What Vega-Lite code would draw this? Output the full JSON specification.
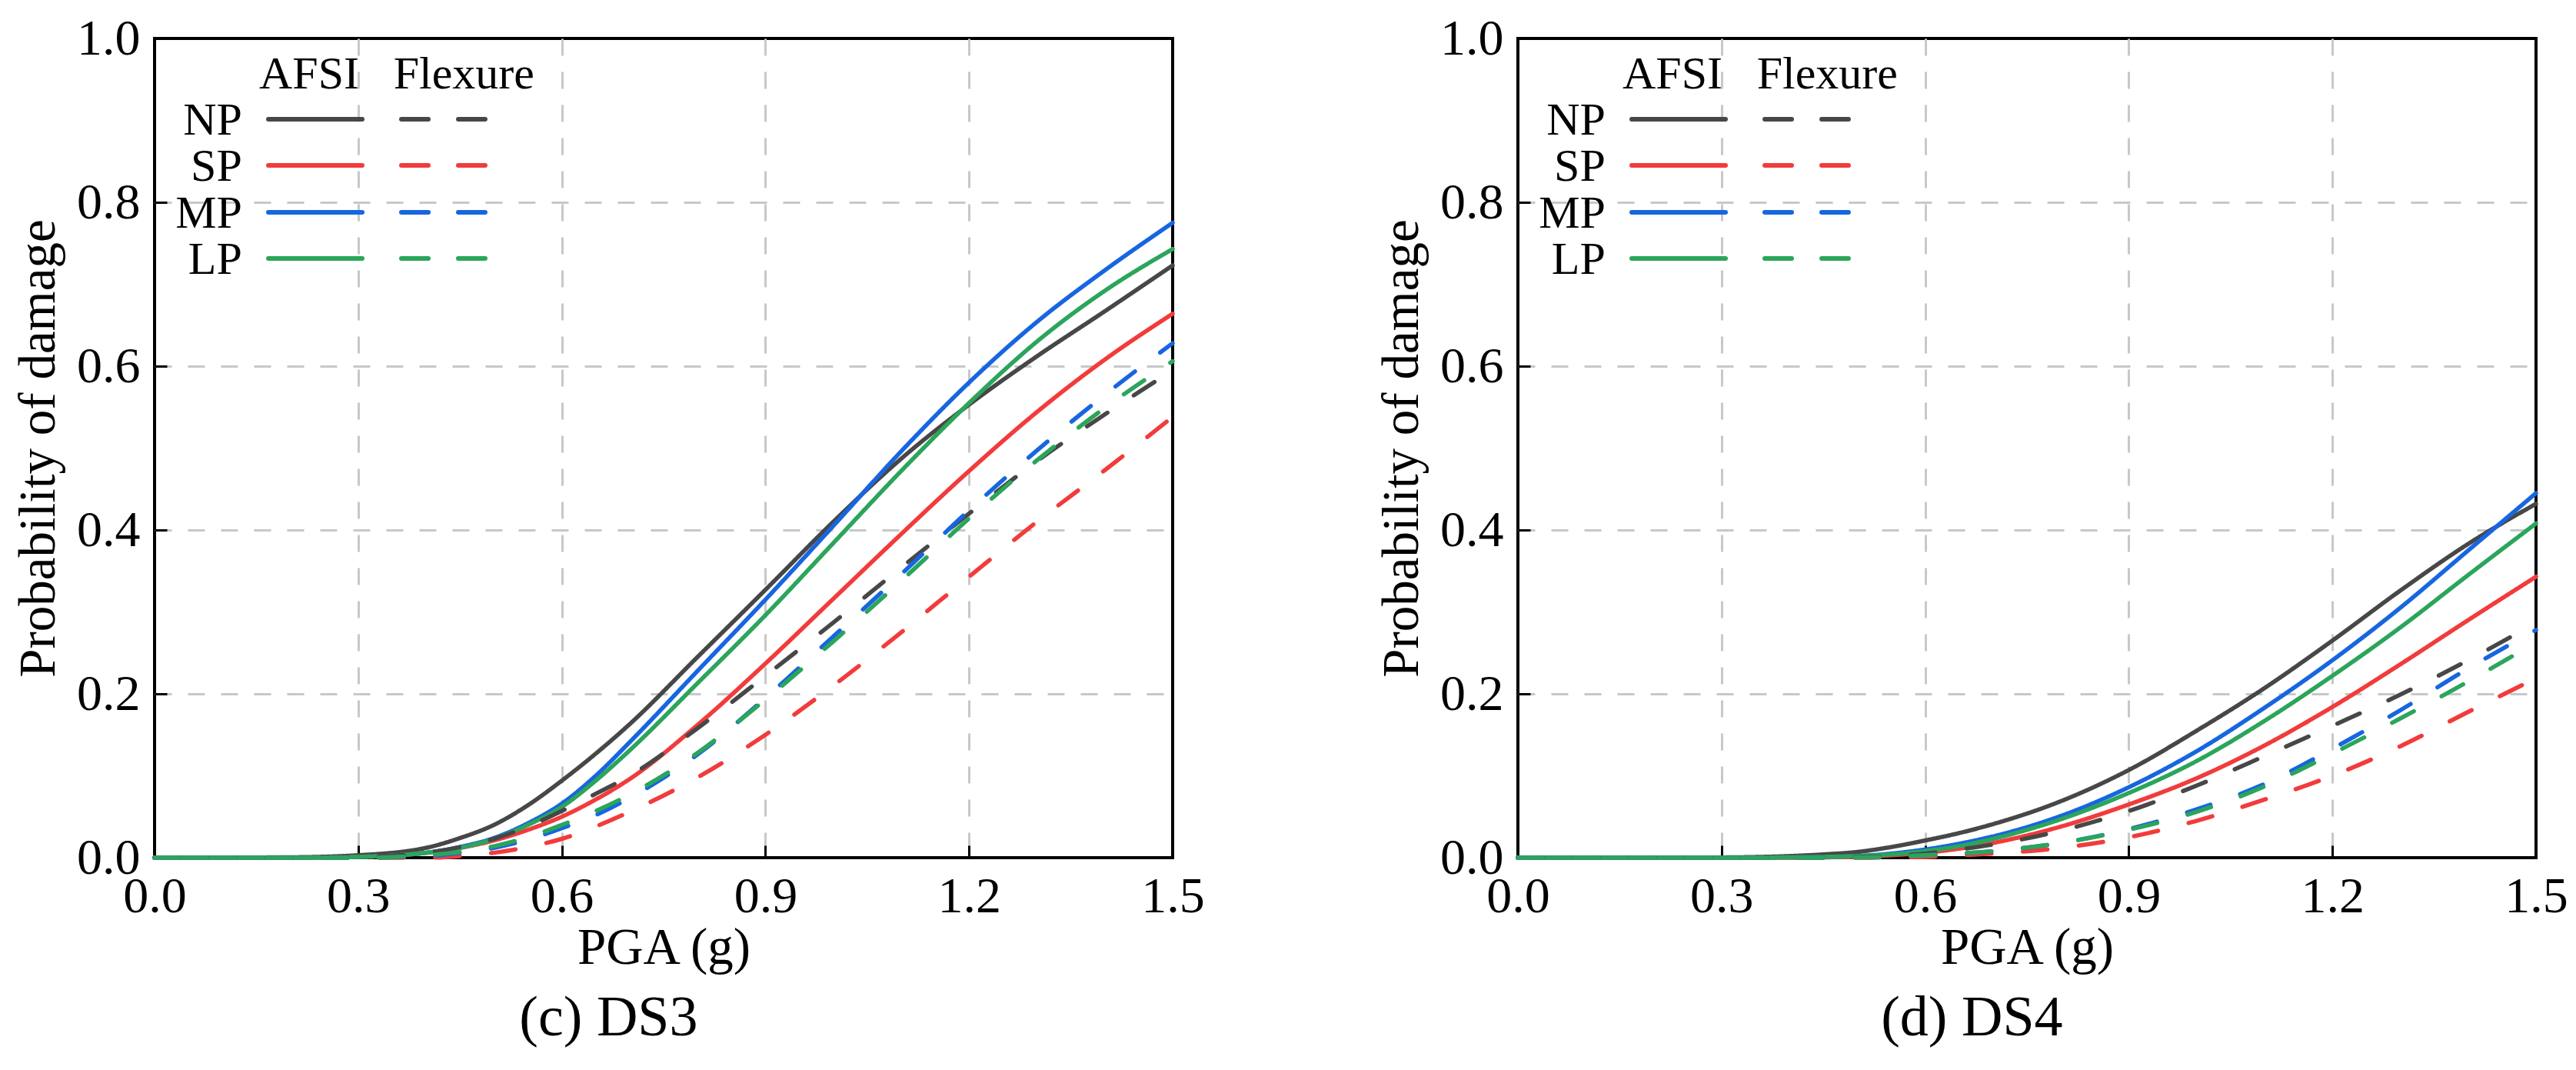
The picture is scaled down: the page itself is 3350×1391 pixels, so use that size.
{
  "$schema": "https://vega.github.io/schema/vega-lite/v6.json",
  "background": "white",
  "padding": {"left": 14, "top": 15, "right": 0, "bottom": 0},
  "config": {
    "font": "Liberation Serif",
    "view": {"stroke": "black", "strokeWidth": 4},
    "concat": {"spacing": 218},
    "axis": {
      "domain": false,
      "grid": true,
      "gridColor": "#c8c8c8",
      "gridWidth": 3,
      "gridDash": [22, 21],
      "ticks": true,
      "tickColor": "black",
      "tickWidth": 3,
      "tickSize": -16,
      "labelFont": "Liberation Serif",
      "labelFontSize": 66,
      "labelColor": "black",
      "labelFlush": false,
      "labelOverlap": false,
      "titleFont": "Liberation Serif",
      "titleFontSize": 67,
      "titleFontWeight": "normal",
      "titleColor": "black"
    },
    "text": {"font": "Liberation Serif", "fontSize": 60, "color": "black"},
    "title": {"font": "Liberation Serif", "fontSize": 74, "fontWeight": "normal", "color": "black"}
  },
  "datasets": {
    "keys": [
      {"series": "NP"}, {"series": "SP"}, {"series": "MP"}, {"series": "LP"}
    ],
    "headers": [
      {"label": "AFSI"}, {"label": "Flexure"}
    ],
    "curves": [
      {"panel":"DS3","series":"NP","model":"AFSI","pga":0,"p":0},
      {"panel":"DS3","series":"NP","model":"AFSI","pga":0.2,"p":0.0005},
      {"panel":"DS3","series":"NP","model":"AFSI","pga":0.3,"p":0.003},
      {"panel":"DS3","series":"NP","model":"AFSI","pga":0.4,"p":0.012},
      {"panel":"DS3","series":"NP","model":"AFSI","pga":0.45,"p":0.024},
      {"panel":"DS3","series":"NP","model":"AFSI","pga":0.5,"p":0.04},
      {"panel":"DS3","series":"NP","model":"AFSI","pga":0.55,"p":0.064},
      {"panel":"DS3","series":"NP","model":"AFSI","pga":0.6,"p":0.094},
      {"panel":"DS3","series":"NP","model":"AFSI","pga":0.65,"p":0.127},
      {"panel":"DS3","series":"NP","model":"AFSI","pga":0.7,"p":0.163},
      {"panel":"DS3","series":"NP","model":"AFSI","pga":0.8,"p":0.245},
      {"panel":"DS3","series":"NP","model":"AFSI","pga":0.9,"p":0.327},
      {"panel":"DS3","series":"NP","model":"AFSI","pga":1.0,"p":0.41},
      {"panel":"DS3","series":"NP","model":"AFSI","pga":1.1,"p":0.487},
      {"panel":"DS3","series":"NP","model":"AFSI","pga":1.2,"p":0.553},
      {"panel":"DS3","series":"NP","model":"AFSI","pga":1.3,"p":0.612},
      {"panel":"DS3","series":"NP","model":"AFSI","pga":1.4,"p":0.667},
      {"panel":"DS3","series":"NP","model":"AFSI","pga":1.5,"p":0.723},

      {"panel":"DS3","series":"SP","model":"AFSI","pga":0,"p":0},
      {"panel":"DS3","series":"SP","model":"AFSI","pga":0.2,"p":0},
      {"panel":"DS3","series":"SP","model":"AFSI","pga":0.3,"p":0.001},
      {"panel":"DS3","series":"SP","model":"AFSI","pga":0.4,"p":0.006},
      {"panel":"DS3","series":"SP","model":"AFSI","pga":0.45,"p":0.012},
      {"panel":"DS3","series":"SP","model":"AFSI","pga":0.5,"p":0.021},
      {"panel":"DS3","series":"SP","model":"AFSI","pga":0.55,"p":0.034},
      {"panel":"DS3","series":"SP","model":"AFSI","pga":0.6,"p":0.05},
      {"panel":"DS3","series":"SP","model":"AFSI","pga":0.65,"p":0.071},
      {"panel":"DS3","series":"SP","model":"AFSI","pga":0.7,"p":0.096},
      {"panel":"DS3","series":"SP","model":"AFSI","pga":0.8,"p":0.162},
      {"panel":"DS3","series":"SP","model":"AFSI","pga":0.9,"p":0.237},
      {"panel":"DS3","series":"SP","model":"AFSI","pga":1.0,"p":0.316},
      {"panel":"DS3","series":"SP","model":"AFSI","pga":1.1,"p":0.395},
      {"panel":"DS3","series":"SP","model":"AFSI","pga":1.2,"p":0.472},
      {"panel":"DS3","series":"SP","model":"AFSI","pga":1.3,"p":0.544},
      {"panel":"DS3","series":"SP","model":"AFSI","pga":1.4,"p":0.608},
      {"panel":"DS3","series":"SP","model":"AFSI","pga":1.5,"p":0.664},

      {"panel":"DS3","series":"MP","model":"AFSI","pga":0,"p":0},
      {"panel":"DS3","series":"MP","model":"AFSI","pga":0.2,"p":0},
      {"panel":"DS3","series":"MP","model":"AFSI","pga":0.3,"p":0.001},
      {"panel":"DS3","series":"MP","model":"AFSI","pga":0.4,"p":0.006},
      {"panel":"DS3","series":"MP","model":"AFSI","pga":0.45,"p":0.013},
      {"panel":"DS3","series":"MP","model":"AFSI","pga":0.5,"p":0.024},
      {"panel":"DS3","series":"MP","model":"AFSI","pga":0.55,"p":0.042},
      {"panel":"DS3","series":"MP","model":"AFSI","pga":0.6,"p":0.066},
      {"panel":"DS3","series":"MP","model":"AFSI","pga":0.65,"p":0.1},
      {"panel":"DS3","series":"MP","model":"AFSI","pga":0.7,"p":0.141},
      {"panel":"DS3","series":"MP","model":"AFSI","pga":0.8,"p":0.228},
      {"panel":"DS3","series":"MP","model":"AFSI","pga":0.9,"p":0.315},
      {"panel":"DS3","series":"MP","model":"AFSI","pga":1.0,"p":0.405},
      {"panel":"DS3","series":"MP","model":"AFSI","pga":1.1,"p":0.496},
      {"panel":"DS3","series":"MP","model":"AFSI","pga":1.2,"p":0.58},
      {"panel":"DS3","series":"MP","model":"AFSI","pga":1.3,"p":0.654},
      {"panel":"DS3","series":"MP","model":"AFSI","pga":1.4,"p":0.717},
      {"panel":"DS3","series":"MP","model":"AFSI","pga":1.5,"p":0.775},

      {"panel":"DS3","series":"LP","model":"AFSI","pga":0,"p":0},
      {"panel":"DS3","series":"LP","model":"AFSI","pga":0.2,"p":0},
      {"panel":"DS3","series":"LP","model":"AFSI","pga":0.3,"p":0.001},
      {"panel":"DS3","series":"LP","model":"AFSI","pga":0.4,"p":0.006},
      {"panel":"DS3","series":"LP","model":"AFSI","pga":0.45,"p":0.012},
      {"panel":"DS3","series":"LP","model":"AFSI","pga":0.5,"p":0.023},
      {"panel":"DS3","series":"LP","model":"AFSI","pga":0.55,"p":0.04},
      {"panel":"DS3","series":"LP","model":"AFSI","pga":0.6,"p":0.062},
      {"panel":"DS3","series":"LP","model":"AFSI","pga":0.65,"p":0.094},
      {"panel":"DS3","series":"LP","model":"AFSI","pga":0.7,"p":0.131},
      {"panel":"DS3","series":"LP","model":"AFSI","pga":0.8,"p":0.213},
      {"panel":"DS3","series":"LP","model":"AFSI","pga":0.9,"p":0.296},
      {"panel":"DS3","series":"LP","model":"AFSI","pga":1.0,"p":0.384},
      {"panel":"DS3","series":"LP","model":"AFSI","pga":1.1,"p":0.472},
      {"panel":"DS3","series":"LP","model":"AFSI","pga":1.2,"p":0.555},
      {"panel":"DS3","series":"LP","model":"AFSI","pga":1.3,"p":0.63},
      {"panel":"DS3","series":"LP","model":"AFSI","pga":1.4,"p":0.692},
      {"panel":"DS3","series":"LP","model":"AFSI","pga":1.5,"p":0.743},

      {"panel":"DS3","series":"NP","model":"Flexure","pga":0,"p":0},
      {"panel":"DS3","series":"NP","model":"Flexure","pga":0.2,"p":0},
      {"panel":"DS3","series":"NP","model":"Flexure","pga":0.3,"p":0.001},
      {"panel":"DS3","series":"NP","model":"Flexure","pga":0.4,"p":0.006},
      {"panel":"DS3","series":"NP","model":"Flexure","pga":0.45,"p":0.013},
      {"panel":"DS3","series":"NP","model":"Flexure","pga":0.5,"p":0.023},
      {"panel":"DS3","series":"NP","model":"Flexure","pga":0.55,"p":0.038},
      {"panel":"DS3","series":"NP","model":"Flexure","pga":0.6,"p":0.057},
      {"panel":"DS3","series":"NP","model":"Flexure","pga":0.65,"p":0.078},
      {"panel":"DS3","series":"NP","model":"Flexure","pga":0.7,"p":0.1},
      {"panel":"DS3","series":"NP","model":"Flexure","pga":0.8,"p":0.158},
      {"panel":"DS3","series":"NP","model":"Flexure","pga":0.9,"p":0.222},
      {"panel":"DS3","series":"NP","model":"Flexure","pga":1.0,"p":0.287},
      {"panel":"DS3","series":"NP","model":"Flexure","pga":1.1,"p":0.354},
      {"panel":"DS3","series":"NP","model":"Flexure","pga":1.2,"p":0.42},
      {"panel":"DS3","series":"NP","model":"Flexure","pga":1.3,"p":0.484},
      {"panel":"DS3","series":"NP","model":"Flexure","pga":1.4,"p":0.541},
      {"panel":"DS3","series":"NP","model":"Flexure","pga":1.5,"p":0.595},

      {"panel":"DS3","series":"SP","model":"Flexure","pga":0,"p":0},
      {"panel":"DS3","series":"SP","model":"Flexure","pga":0.2,"p":0},
      {"panel":"DS3","series":"SP","model":"Flexure","pga":0.3,"p":0},
      {"panel":"DS3","series":"SP","model":"Flexure","pga":0.4,"p":0},
      {"panel":"DS3","series":"SP","model":"Flexure","pga":0.45,"p":0.002},
      {"panel":"DS3","series":"SP","model":"Flexure","pga":0.5,"p":0.006},
      {"panel":"DS3","series":"SP","model":"Flexure","pga":0.55,"p":0.013},
      {"panel":"DS3","series":"SP","model":"Flexure","pga":0.6,"p":0.023},
      {"panel":"DS3","series":"SP","model":"Flexure","pga":0.65,"p":0.038},
      {"panel":"DS3","series":"SP","model":"Flexure","pga":0.7,"p":0.056},
      {"panel":"DS3","series":"SP","model":"Flexure","pga":0.8,"p":0.098},
      {"panel":"DS3","series":"SP","model":"Flexure","pga":0.9,"p":0.15},
      {"panel":"DS3","series":"SP","model":"Flexure","pga":1.0,"p":0.21},
      {"panel":"DS3","series":"SP","model":"Flexure","pga":1.1,"p":0.275},
      {"panel":"DS3","series":"SP","model":"Flexure","pga":1.2,"p":0.343},
      {"panel":"DS3","series":"SP","model":"Flexure","pga":1.3,"p":0.41},
      {"panel":"DS3","series":"SP","model":"Flexure","pga":1.4,"p":0.473},
      {"panel":"DS3","series":"SP","model":"Flexure","pga":1.5,"p":0.538},

      {"panel":"DS3","series":"MP","model":"Flexure","pga":0,"p":0},
      {"panel":"DS3","series":"MP","model":"Flexure","pga":0.2,"p":0},
      {"panel":"DS3","series":"MP","model":"Flexure","pga":0.3,"p":0},
      {"panel":"DS3","series":"MP","model":"Flexure","pga":0.4,"p":0.002},
      {"panel":"DS3","series":"MP","model":"Flexure","pga":0.45,"p":0.006},
      {"panel":"DS3","series":"MP","model":"Flexure","pga":0.5,"p":0.012},
      {"panel":"DS3","series":"MP","model":"Flexure","pga":0.55,"p":0.022},
      {"panel":"DS3","series":"MP","model":"Flexure","pga":0.6,"p":0.036},
      {"panel":"DS3","series":"MP","model":"Flexure","pga":0.65,"p":0.052},
      {"panel":"DS3","series":"MP","model":"Flexure","pga":0.7,"p":0.073},
      {"panel":"DS3","series":"MP","model":"Flexure","pga":0.8,"p":0.126},
      {"panel":"DS3","series":"MP","model":"Flexure","pga":0.9,"p":0.195},
      {"panel":"DS3","series":"MP","model":"Flexure","pga":1.0,"p":0.27},
      {"panel":"DS3","series":"MP","model":"Flexure","pga":1.1,"p":0.346},
      {"panel":"DS3","series":"MP","model":"Flexure","pga":1.2,"p":0.424},
      {"panel":"DS3","series":"MP","model":"Flexure","pga":1.3,"p":0.497},
      {"panel":"DS3","series":"MP","model":"Flexure","pga":1.4,"p":0.565},
      {"panel":"DS3","series":"MP","model":"Flexure","pga":1.5,"p":0.628},

      {"panel":"DS3","series":"LP","model":"Flexure","pga":0,"p":0},
      {"panel":"DS3","series":"LP","model":"Flexure","pga":0.2,"p":0},
      {"panel":"DS3","series":"LP","model":"Flexure","pga":0.3,"p":0},
      {"panel":"DS3","series":"LP","model":"Flexure","pga":0.4,"p":0.003},
      {"panel":"DS3","series":"LP","model":"Flexure","pga":0.45,"p":0.007},
      {"panel":"DS3","series":"LP","model":"Flexure","pga":0.5,"p":0.014},
      {"panel":"DS3","series":"LP","model":"Flexure","pga":0.55,"p":0.025},
      {"panel":"DS3","series":"LP","model":"Flexure","pga":0.6,"p":0.04},
      {"panel":"DS3","series":"LP","model":"Flexure","pga":0.65,"p":0.057},
      {"panel":"DS3","series":"LP","model":"Flexure","pga":0.7,"p":0.077},
      {"panel":"DS3","series":"LP","model":"Flexure","pga":0.8,"p":0.128},
      {"panel":"DS3","series":"LP","model":"Flexure","pga":0.9,"p":0.193},
      {"panel":"DS3","series":"LP","model":"Flexure","pga":1.0,"p":0.264},
      {"panel":"DS3","series":"LP","model":"Flexure","pga":1.1,"p":0.338},
      {"panel":"DS3","series":"LP","model":"Flexure","pga":1.2,"p":0.414},
      {"panel":"DS3","series":"LP","model":"Flexure","pga":1.3,"p":0.485},
      {"panel":"DS3","series":"LP","model":"Flexure","pga":1.4,"p":0.549},
      {"panel":"DS3","series":"LP","model":"Flexure","pga":1.5,"p":0.606},

      {"panel":"DS4","series":"NP","model":"AFSI","pga":0,"p":0},
      {"panel":"DS4","series":"NP","model":"AFSI","pga":0.2,"p":0},
      {"panel":"DS4","series":"NP","model":"AFSI","pga":0.3,"p":0.0003},
      {"panel":"DS4","series":"NP","model":"AFSI","pga":0.4,"p":0.002},
      {"panel":"DS4","series":"NP","model":"AFSI","pga":0.45,"p":0.004},
      {"panel":"DS4","series":"NP","model":"AFSI","pga":0.5,"p":0.007},
      {"panel":"DS4","series":"NP","model":"AFSI","pga":0.55,"p":0.013},
      {"panel":"DS4","series":"NP","model":"AFSI","pga":0.6,"p":0.021},
      {"panel":"DS4","series":"NP","model":"AFSI","pga":0.65,"p":0.03},
      {"panel":"DS4","series":"NP","model":"AFSI","pga":0.7,"p":0.041},
      {"panel":"DS4","series":"NP","model":"AFSI","pga":0.8,"p":0.069},
      {"panel":"DS4","series":"NP","model":"AFSI","pga":0.9,"p":0.107},
      {"panel":"DS4","series":"NP","model":"AFSI","pga":1.0,"p":0.155},
      {"panel":"DS4","series":"NP","model":"AFSI","pga":1.1,"p":0.207},
      {"panel":"DS4","series":"NP","model":"AFSI","pga":1.2,"p":0.265},
      {"panel":"DS4","series":"NP","model":"AFSI","pga":1.3,"p":0.326},
      {"panel":"DS4","series":"NP","model":"AFSI","pga":1.4,"p":0.383},
      {"panel":"DS4","series":"NP","model":"AFSI","pga":1.5,"p":0.432},

      {"panel":"DS4","series":"SP","model":"AFSI","pga":0,"p":0},
      {"panel":"DS4","series":"SP","model":"AFSI","pga":0.2,"p":0},
      {"panel":"DS4","series":"SP","model":"AFSI","pga":0.3,"p":0},
      {"panel":"DS4","series":"SP","model":"AFSI","pga":0.4,"p":0},
      {"panel":"DS4","series":"SP","model":"AFSI","pga":0.45,"p":0.0005},
      {"panel":"DS4","series":"SP","model":"AFSI","pga":0.5,"p":0.001},
      {"panel":"DS4","series":"SP","model":"AFSI","pga":0.55,"p":0.003},
      {"panel":"DS4","series":"SP","model":"AFSI","pga":0.6,"p":0.006},
      {"panel":"DS4","series":"SP","model":"AFSI","pga":0.65,"p":0.011},
      {"panel":"DS4","series":"SP","model":"AFSI","pga":0.7,"p":0.018},
      {"panel":"DS4","series":"SP","model":"AFSI","pga":0.8,"p":0.038},
      {"panel":"DS4","series":"SP","model":"AFSI","pga":0.9,"p":0.065},
      {"panel":"DS4","series":"SP","model":"AFSI","pga":1.0,"p":0.097},
      {"panel":"DS4","series":"SP","model":"AFSI","pga":1.1,"p":0.137},
      {"panel":"DS4","series":"SP","model":"AFSI","pga":1.2,"p":0.184},
      {"panel":"DS4","series":"SP","model":"AFSI","pga":1.3,"p":0.236},
      {"panel":"DS4","series":"SP","model":"AFSI","pga":1.4,"p":0.29},
      {"panel":"DS4","series":"SP","model":"AFSI","pga":1.5,"p":0.343},

      {"panel":"DS4","series":"MP","model":"AFSI","pga":0,"p":0},
      {"panel":"DS4","series":"MP","model":"AFSI","pga":0.2,"p":0},
      {"panel":"DS4","series":"MP","model":"AFSI","pga":0.3,"p":0},
      {"panel":"DS4","series":"MP","model":"AFSI","pga":0.4,"p":0.0005},
      {"panel":"DS4","series":"MP","model":"AFSI","pga":0.45,"p":0.001},
      {"panel":"DS4","series":"MP","model":"AFSI","pga":0.5,"p":0.002},
      {"panel":"DS4","series":"MP","model":"AFSI","pga":0.55,"p":0.005},
      {"panel":"DS4","series":"MP","model":"AFSI","pga":0.6,"p":0.01},
      {"panel":"DS4","series":"MP","model":"AFSI","pga":0.65,"p":0.017},
      {"panel":"DS4","series":"MP","model":"AFSI","pga":0.7,"p":0.026},
      {"panel":"DS4","series":"MP","model":"AFSI","pga":0.8,"p":0.051},
      {"panel":"DS4","series":"MP","model":"AFSI","pga":0.9,"p":0.086},
      {"panel":"DS4","series":"MP","model":"AFSI","pga":1.0,"p":0.13},
      {"panel":"DS4","series":"MP","model":"AFSI","pga":1.1,"p":0.183},
      {"panel":"DS4","series":"MP","model":"AFSI","pga":1.2,"p":0.241},
      {"panel":"DS4","series":"MP","model":"AFSI","pga":1.3,"p":0.305},
      {"panel":"DS4","series":"MP","model":"AFSI","pga":1.4,"p":0.375},
      {"panel":"DS4","series":"MP","model":"AFSI","pga":1.5,"p":0.445},

      {"panel":"DS4","series":"LP","model":"AFSI","pga":0,"p":0},
      {"panel":"DS4","series":"LP","model":"AFSI","pga":0.2,"p":0},
      {"panel":"DS4","series":"LP","model":"AFSI","pga":0.3,"p":0},
      {"panel":"DS4","series":"LP","model":"AFSI","pga":0.4,"p":0.0005},
      {"panel":"DS4","series":"LP","model":"AFSI","pga":0.45,"p":0.001},
      {"panel":"DS4","series":"LP","model":"AFSI","pga":0.5,"p":0.002},
      {"panel":"DS4","series":"LP","model":"AFSI","pga":0.55,"p":0.004},
      {"panel":"DS4","series":"LP","model":"AFSI","pga":0.6,"p":0.008},
      {"panel":"DS4","series":"LP","model":"AFSI","pga":0.65,"p":0.014},
      {"panel":"DS4","series":"LP","model":"AFSI","pga":0.7,"p":0.023},
      {"panel":"DS4","series":"LP","model":"AFSI","pga":0.8,"p":0.047},
      {"panel":"DS4","series":"LP","model":"AFSI","pga":0.9,"p":0.079},
      {"panel":"DS4","series":"LP","model":"AFSI","pga":1.0,"p":0.118},
      {"panel":"DS4","series":"LP","model":"AFSI","pga":1.1,"p":0.167},
      {"panel":"DS4","series":"LP","model":"AFSI","pga":1.2,"p":0.222},
      {"panel":"DS4","series":"LP","model":"AFSI","pga":1.3,"p":0.281},
      {"panel":"DS4","series":"LP","model":"AFSI","pga":1.4,"p":0.345},
      {"panel":"DS4","series":"LP","model":"AFSI","pga":1.5,"p":0.408},

      {"panel":"DS4","series":"NP","model":"Flexure","pga":0,"p":0},
      {"panel":"DS4","series":"NP","model":"Flexure","pga":0.2,"p":0},
      {"panel":"DS4","series":"NP","model":"Flexure","pga":0.3,"p":0},
      {"panel":"DS4","series":"NP","model":"Flexure","pga":0.4,"p":0},
      {"panel":"DS4","series":"NP","model":"Flexure","pga":0.45,"p":0.0005},
      {"panel":"DS4","series":"NP","model":"Flexure","pga":0.5,"p":0.001},
      {"panel":"DS4","series":"NP","model":"Flexure","pga":0.55,"p":0.002},
      {"panel":"DS4","series":"NP","model":"Flexure","pga":0.6,"p":0.005},
      {"panel":"DS4","series":"NP","model":"Flexure","pga":0.65,"p":0.01},
      {"panel":"DS4","series":"NP","model":"Flexure","pga":0.7,"p":0.016},
      {"panel":"DS4","series":"NP","model":"Flexure","pga":0.8,"p":0.033},
      {"panel":"DS4","series":"NP","model":"Flexure","pga":0.9,"p":0.057},
      {"panel":"DS4","series":"NP","model":"Flexure","pga":1.0,"p":0.088},
      {"panel":"DS4","series":"NP","model":"Flexure","pga":1.1,"p":0.124},
      {"panel":"DS4","series":"NP","model":"Flexure","pga":1.2,"p":0.161},
      {"panel":"DS4","series":"NP","model":"Flexure","pga":1.3,"p":0.199},
      {"panel":"DS4","series":"NP","model":"Flexure","pga":1.4,"p":0.241},
      {"panel":"DS4","series":"NP","model":"Flexure","pga":1.5,"p":0.287},

      {"panel":"DS4","series":"SP","model":"Flexure","pga":0,"p":0},
      {"panel":"DS4","series":"SP","model":"Flexure","pga":0.2,"p":0},
      {"panel":"DS4","series":"SP","model":"Flexure","pga":0.3,"p":0},
      {"panel":"DS4","series":"SP","model":"Flexure","pga":0.4,"p":0},
      {"panel":"DS4","series":"SP","model":"Flexure","pga":0.45,"p":0},
      {"panel":"DS4","series":"SP","model":"Flexure","pga":0.5,"p":0},
      {"panel":"DS4","series":"SP","model":"Flexure","pga":0.55,"p":0.0005},
      {"panel":"DS4","series":"SP","model":"Flexure","pga":0.6,"p":0.001},
      {"panel":"DS4","series":"SP","model":"Flexure","pga":0.65,"p":0.003},
      {"panel":"DS4","series":"SP","model":"Flexure","pga":0.7,"p":0.005},
      {"panel":"DS4","series":"SP","model":"Flexure","pga":0.8,"p":0.012},
      {"panel":"DS4","series":"SP","model":"Flexure","pga":0.9,"p":0.025},
      {"panel":"DS4","series":"SP","model":"Flexure","pga":1.0,"p":0.045},
      {"panel":"DS4","series":"SP","model":"Flexure","pga":1.1,"p":0.071},
      {"panel":"DS4","series":"SP","model":"Flexure","pga":1.2,"p":0.1},
      {"panel":"DS4","series":"SP","model":"Flexure","pga":1.3,"p":0.136},
      {"panel":"DS4","series":"SP","model":"Flexure","pga":1.4,"p":0.178},
      {"panel":"DS4","series":"SP","model":"Flexure","pga":1.5,"p":0.219},

      {"panel":"DS4","series":"MP","model":"Flexure","pga":0,"p":0},
      {"panel":"DS4","series":"MP","model":"Flexure","pga":0.2,"p":0},
      {"panel":"DS4","series":"MP","model":"Flexure","pga":0.3,"p":0},
      {"panel":"DS4","series":"MP","model":"Flexure","pga":0.4,"p":0},
      {"panel":"DS4","series":"MP","model":"Flexure","pga":0.45,"p":0},
      {"panel":"DS4","series":"MP","model":"Flexure","pga":0.5,"p":0.0005},
      {"panel":"DS4","series":"MP","model":"Flexure","pga":0.55,"p":0.001},
      {"panel":"DS4","series":"MP","model":"Flexure","pga":0.6,"p":0.003},
      {"panel":"DS4","series":"MP","model":"Flexure","pga":0.65,"p":0.005},
      {"panel":"DS4","series":"MP","model":"Flexure","pga":0.7,"p":0.008},
      {"panel":"DS4","series":"MP","model":"Flexure","pga":0.8,"p":0.018},
      {"panel":"DS4","series":"MP","model":"Flexure","pga":0.9,"p":0.035},
      {"panel":"DS4","series":"MP","model":"Flexure","pga":1.0,"p":0.059},
      {"panel":"DS4","series":"MP","model":"Flexure","pga":1.1,"p":0.09},
      {"panel":"DS4","series":"MP","model":"Flexure","pga":1.2,"p":0.133},
      {"panel":"DS4","series":"MP","model":"Flexure","pga":1.3,"p":0.18},
      {"panel":"DS4","series":"MP","model":"Flexure","pga":1.4,"p":0.231},
      {"panel":"DS4","series":"MP","model":"Flexure","pga":1.5,"p":0.278},

      {"panel":"DS4","series":"LP","model":"Flexure","pga":0,"p":0},
      {"panel":"DS4","series":"LP","model":"Flexure","pga":0.2,"p":0},
      {"panel":"DS4","series":"LP","model":"Flexure","pga":0.3,"p":0},
      {"panel":"DS4","series":"LP","model":"Flexure","pga":0.4,"p":0},
      {"panel":"DS4","series":"LP","model":"Flexure","pga":0.45,"p":0},
      {"panel":"DS4","series":"LP","model":"Flexure","pga":0.5,"p":0.0005},
      {"panel":"DS4","series":"LP","model":"Flexure","pga":0.55,"p":0.001},
      {"panel":"DS4","series":"LP","model":"Flexure","pga":0.6,"p":0.003},
      {"panel":"DS4","series":"LP","model":"Flexure","pga":0.65,"p":0.005},
      {"panel":"DS4","series":"LP","model":"Flexure","pga":0.7,"p":0.008},
      {"panel":"DS4","series":"LP","model":"Flexure","pga":0.8,"p":0.018},
      {"panel":"DS4","series":"LP","model":"Flexure","pga":0.9,"p":0.034},
      {"panel":"DS4","series":"LP","model":"Flexure","pga":1.0,"p":0.056},
      {"panel":"DS4","series":"LP","model":"Flexure","pga":1.1,"p":0.087},
      {"panel":"DS4","series":"LP","model":"Flexure","pga":1.2,"p":0.127},
      {"panel":"DS4","series":"LP","model":"Flexure","pga":1.3,"p":0.17},
      {"panel":"DS4","series":"LP","model":"Flexure","pga":1.4,"p":0.215},
      {"panel":"DS4","series":"LP","model":"Flexure","pga":1.5,"p":0.263}
    ]
  },
  "hconcat": [
    {
      "width": 1324,
      "height": 1065,
      "title": {"text": "(c) DS3", "orient": "bottom", "anchor": "middle", "frame": "bounds", "offset": 23},
      "layer": [
        {
          "data": {"name": "curves"},
          "transform": [{"filter": "datum.panel === 'DS3'"}],
          "mark": {"type": "line", "strokeWidth": 5.5, "strokeCap": "round", "interpolate": "monotone"},
          "encoding": {
            "x": {"field": "pga", "type": "quantitative", "title": "PGA (g)",
                  "scale": {"domain": [0, 1.5], "nice": false},
                  "axis": {"values": [0, 0.3, 0.6, 0.9, 1.2, 1.5], "format": ".1f", "labelPadding": 34, "titlePadding": 1,
                           "gridOpacity": {"condition": {"test": "datum.value === 0 || datum.value === 1.5", "value": 0}, "value": 1}}},
            "y": {"field": "p", "type": "quantitative", "title": "Probability of damage",
                  "scale": {"domain": [0, 1], "nice": false},
                  "axis": {"values": [0, 0.2, 0.4, 0.6, 0.8, 1.0], "format": ".1f", "labelPadding": 35, "titlePadding": 15,
                           "gridOpacity": {"condition": {"test": "datum.value === 0 || datum.value === 1", "value": 0}, "value": 1}}},
            "color": {"field": "series", "type": "nominal", "legend": null,
                      "scale": {"domain": ["NP", "SP", "MP", "LP"], "range": ["#474747", "#f23b3b", "#1766e0", "#2ba55b"]}},
            "strokeDash": {"field": "model", "type": "nominal", "legend": null,
                           "scale": {"domain": ["AFSI", "Flexure"], "range": [[1, 0], [32, 41]]}}
          }
        },
        {"data": {"name": "headers"}, "transform": [{"filter": "datum.label === 'AFSI'"}],
         "mark": {"type": "text", "align": "left", "baseline": "alphabetic"},
         "encoding": {"x": {"datum": 0.154}, "y": {"datum": 0.939}, "text": {"field": "label"}}},
        {"data": {"name": "headers"}, "transform": [{"filter": "datum.label === 'Flexure'"}],
         "mark": {"type": "text", "align": "left", "baseline": "alphabetic"},
         "encoding": {"x": {"datum": 0.352}, "y": {"datum": 0.939}, "text": {"field": "label"}}},

        {"data": {"name": "keys"}, "transform": [{"filter": "datum.series === 'NP'"}],
         "mark": {"type": "text", "align": "right", "baseline": "alphabetic"},
         "encoding": {"x": {"datum": 0.129}, "y": {"datum": 0.8826}, "text": {"field": "series"}}},
        {"data": {"name": "keys"}, "transform": [{"filter": "datum.series === 'SP'"}],
         "mark": {"type": "text", "align": "right", "baseline": "alphabetic"},
         "encoding": {"x": {"datum": 0.129}, "y": {"datum": 0.8263}, "text": {"field": "series"}}},
        {"data": {"name": "keys"}, "transform": [{"filter": "datum.series === 'MP'"}],
         "mark": {"type": "text", "align": "right", "baseline": "alphabetic"},
         "encoding": {"x": {"datum": 0.129}, "y": {"datum": 0.769}, "text": {"field": "series"}}},
        {"data": {"name": "keys"}, "transform": [{"filter": "datum.series === 'LP'"}],
         "mark": {"type": "text", "align": "right", "baseline": "alphabetic"},
         "encoding": {"x": {"datum": 0.129}, "y": {"datum": 0.7127}, "text": {"field": "series"}}},

        {"data": {"name": "keys"}, "transform": [{"filter": "datum.series === 'NP'"}],
         "mark": {"type": "rule", "strokeWidth": 6, "strokeCap": "round"},
         "encoding": {"x": {"datum": 0.1677}, "x2": {"datum": 0.3059}, "y": {"datum": 0.9014}, "color": {"field": "series", "type": "nominal", "legend": null}}},
        {"data": {"name": "keys"}, "transform": [{"filter": "datum.series === 'SP'"}],
         "mark": {"type": "rule", "strokeWidth": 6, "strokeCap": "round"},
         "encoding": {"x": {"datum": 0.1677}, "x2": {"datum": 0.3059}, "y": {"datum": 0.8451}, "color": {"field": "series", "type": "nominal", "legend": null}}},
        {"data": {"name": "keys"}, "transform": [{"filter": "datum.series === 'MP'"}],
         "mark": {"type": "rule", "strokeWidth": 6, "strokeCap": "round"},
         "encoding": {"x": {"datum": 0.1677}, "x2": {"datum": 0.3059}, "y": {"datum": 0.7878}, "color": {"field": "series", "type": "nominal", "legend": null}}},
        {"data": {"name": "keys"}, "transform": [{"filter": "datum.series === 'LP'"}],
         "mark": {"type": "rule", "strokeWidth": 6, "strokeCap": "round"},
         "encoding": {"x": {"datum": 0.1677}, "x2": {"datum": 0.3059}, "y": {"datum": 0.7315}, "color": {"field": "series", "type": "nominal", "legend": null}}},

        {"data": {"name": "keys"}, "transform": [{"filter": "datum.series === 'NP'"}],
         "mark": {"type": "rule", "strokeWidth": 6, "strokeCap": "round", "strokeDash": [35, 39]},
         "encoding": {"x": {"datum": 0.3637}, "x2": {"datum": 0.4871}, "y": {"datum": 0.9014}, "color": {"field": "series", "type": "nominal", "legend": null}}},
        {"data": {"name": "keys"}, "transform": [{"filter": "datum.series === 'SP'"}],
         "mark": {"type": "rule", "strokeWidth": 6, "strokeCap": "round", "strokeDash": [35, 39]},
         "encoding": {"x": {"datum": 0.3637}, "x2": {"datum": 0.4871}, "y": {"datum": 0.8451}, "color": {"field": "series", "type": "nominal", "legend": null}}},
        {"data": {"name": "keys"}, "transform": [{"filter": "datum.series === 'MP'"}],
         "mark": {"type": "rule", "strokeWidth": 6, "strokeCap": "round", "strokeDash": [35, 39]},
         "encoding": {"x": {"datum": 0.3637}, "x2": {"datum": 0.4871}, "y": {"datum": 0.7878}, "color": {"field": "series", "type": "nominal", "legend": null}}},
        {"data": {"name": "keys"}, "transform": [{"filter": "datum.series === 'LP'"}],
         "mark": {"type": "rule", "strokeWidth": 6, "strokeCap": "round", "strokeDash": [35, 39]},
         "encoding": {"x": {"datum": 0.3637}, "x2": {"datum": 0.4871}, "y": {"datum": 0.7315}, "color": {"field": "series", "type": "nominal", "legend": null}}}
      ]
    },
    {
      "width": 1324,
      "height": 1065,
      "title": {"text": "(d) DS4", "orient": "bottom", "anchor": "middle", "frame": "bounds", "offset": 23},
      "layer": [
        {
          "data": {"name": "curves"},
          "transform": [{"filter": "datum.panel === 'DS4'"}],
          "mark": {"type": "line", "strokeWidth": 5.5, "strokeCap": "round", "interpolate": "monotone"},
          "encoding": {
            "x": {"field": "pga", "type": "quantitative", "title": "PGA (g)",
                  "scale": {"domain": [0, 1.5], "nice": false},
                  "axis": {"values": [0, 0.3, 0.6, 0.9, 1.2, 1.5], "format": ".1f", "labelPadding": 34, "titlePadding": 1,
                           "gridOpacity": {"condition": {"test": "datum.value === 0 || datum.value === 1.5", "value": 0}, "value": 1}}},
            "y": {"field": "p", "type": "quantitative", "title": "Probability of damage",
                  "scale": {"domain": [0, 1], "nice": false},
                  "axis": {"values": [0, 0.2, 0.4, 0.6, 0.8, 1.0], "format": ".1f", "labelPadding": 35, "titlePadding": 15,
                           "gridOpacity": {"condition": {"test": "datum.value === 0 || datum.value === 1", "value": 0}, "value": 1}}},
            "color": {"field": "series", "type": "nominal", "legend": null,
                      "scale": {"domain": ["NP", "SP", "MP", "LP"], "range": ["#474747", "#f23b3b", "#1766e0", "#2ba55b"]}},
            "strokeDash": {"field": "model", "type": "nominal", "legend": null,
                           "scale": {"domain": ["AFSI", "Flexure"], "range": [[1, 0], [32, 41]]}}
          }
        },
        {"data": {"name": "headers"}, "transform": [{"filter": "datum.label === 'AFSI'"}],
         "mark": {"type": "text", "align": "left", "baseline": "alphabetic"},
         "encoding": {"x": {"datum": 0.154}, "y": {"datum": 0.939}, "text": {"field": "label"}}},
        {"data": {"name": "headers"}, "transform": [{"filter": "datum.label === 'Flexure'"}],
         "mark": {"type": "text", "align": "left", "baseline": "alphabetic"},
         "encoding": {"x": {"datum": 0.352}, "y": {"datum": 0.939}, "text": {"field": "label"}}},

        {"data": {"name": "keys"}, "transform": [{"filter": "datum.series === 'NP'"}],
         "mark": {"type": "text", "align": "right", "baseline": "alphabetic"},
         "encoding": {"x": {"datum": 0.129}, "y": {"datum": 0.8826}, "text": {"field": "series"}}},
        {"data": {"name": "keys"}, "transform": [{"filter": "datum.series === 'SP'"}],
         "mark": {"type": "text", "align": "right", "baseline": "alphabetic"},
         "encoding": {"x": {"datum": 0.129}, "y": {"datum": 0.8263}, "text": {"field": "series"}}},
        {"data": {"name": "keys"}, "transform": [{"filter": "datum.series === 'MP'"}],
         "mark": {"type": "text", "align": "right", "baseline": "alphabetic"},
         "encoding": {"x": {"datum": 0.129}, "y": {"datum": 0.769}, "text": {"field": "series"}}},
        {"data": {"name": "keys"}, "transform": [{"filter": "datum.series === 'LP'"}],
         "mark": {"type": "text", "align": "right", "baseline": "alphabetic"},
         "encoding": {"x": {"datum": 0.129}, "y": {"datum": 0.7127}, "text": {"field": "series"}}},

        {"data": {"name": "keys"}, "transform": [{"filter": "datum.series === 'NP'"}],
         "mark": {"type": "rule", "strokeWidth": 6, "strokeCap": "round"},
         "encoding": {"x": {"datum": 0.1677}, "x2": {"datum": 0.3059}, "y": {"datum": 0.9014}, "color": {"field": "series", "type": "nominal", "legend": null}}},
        {"data": {"name": "keys"}, "transform": [{"filter": "datum.series === 'SP'"}],
         "mark": {"type": "rule", "strokeWidth": 6, "strokeCap": "round"},
         "encoding": {"x": {"datum": 0.1677}, "x2": {"datum": 0.3059}, "y": {"datum": 0.8451}, "color": {"field": "series", "type": "nominal", "legend": null}}},
        {"data": {"name": "keys"}, "transform": [{"filter": "datum.series === 'MP'"}],
         "mark": {"type": "rule", "strokeWidth": 6, "strokeCap": "round"},
         "encoding": {"x": {"datum": 0.1677}, "x2": {"datum": 0.3059}, "y": {"datum": 0.7878}, "color": {"field": "series", "type": "nominal", "legend": null}}},
        {"data": {"name": "keys"}, "transform": [{"filter": "datum.series === 'LP'"}],
         "mark": {"type": "rule", "strokeWidth": 6, "strokeCap": "round"},
         "encoding": {"x": {"datum": 0.1677}, "x2": {"datum": 0.3059}, "y": {"datum": 0.7315}, "color": {"field": "series", "type": "nominal", "legend": null}}},

        {"data": {"name": "keys"}, "transform": [{"filter": "datum.series === 'NP'"}],
         "mark": {"type": "rule", "strokeWidth": 6, "strokeCap": "round", "strokeDash": [35, 39]},
         "encoding": {"x": {"datum": 0.3637}, "x2": {"datum": 0.4871}, "y": {"datum": 0.9014}, "color": {"field": "series", "type": "nominal", "legend": null}}},
        {"data": {"name": "keys"}, "transform": [{"filter": "datum.series === 'SP'"}],
         "mark": {"type": "rule", "strokeWidth": 6, "strokeCap": "round", "strokeDash": [35, 39]},
         "encoding": {"x": {"datum": 0.3637}, "x2": {"datum": 0.4871}, "y": {"datum": 0.8451}, "color": {"field": "series", "type": "nominal", "legend": null}}},
        {"data": {"name": "keys"}, "transform": [{"filter": "datum.series === 'MP'"}],
         "mark": {"type": "rule", "strokeWidth": 6, "strokeCap": "round", "strokeDash": [35, 39]},
         "encoding": {"x": {"datum": 0.3637}, "x2": {"datum": 0.4871}, "y": {"datum": 0.7878}, "color": {"field": "series", "type": "nominal", "legend": null}}},
        {"data": {"name": "keys"}, "transform": [{"filter": "datum.series === 'LP'"}],
         "mark": {"type": "rule", "strokeWidth": 6, "strokeCap": "round", "strokeDash": [35, 39]},
         "encoding": {"x": {"datum": 0.3637}, "x2": {"datum": 0.4871}, "y": {"datum": 0.7315}, "color": {"field": "series", "type": "nominal", "legend": null}}}
      ]
    }
  ]
}
